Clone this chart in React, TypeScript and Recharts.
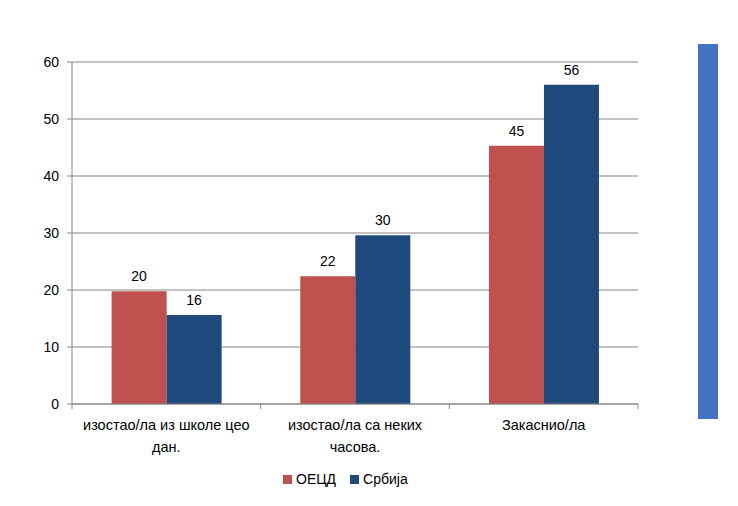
import { BarChart, Bar, XAxis, YAxis, CartesianGrid, LabelList } from 'recharts';

const categoryLines = [
  ['изостао/ла из школе цео', 'дан.'],
  ['изостао/ла са неких', 'часова.'],
  ['Закаснио/ла'],
];
const oecdValues = [19.8, 22.4, 45.3];
const serbiaValues = [15.6, 29.6, 56.0];
const yTicks = [0, 10, 20, 30, 40, 50, 60];
const seriesNames = ['ОЕЦД', 'Србија'];
const seriesColors = ['#C0504D', '#1F497D'];

const data = categoryLines.map((lines, i) => ({
  name: lines.join(' '),
  oecd: oecdValues[i],
  serbia: serbiaValues[i],
}));

const FONT = '"Liberation Sans", Arial, sans-serif';
const AXIS = '#868686';
const BAND = 566 / 3;

const CategoryTick = (props: any) => {
  const { x, y, index } = props;
  const lines = categoryLines[index] || [];
  return (
    <g>
      <line x1={x - BAND / 2} y1={y} x2={x - BAND / 2} y2={y + 5} stroke={AXIS} />
      {index === categoryLines.length - 1 && (
        <line x1={x + BAND / 2} y1={y} x2={x + BAND / 2} y2={y + 5} stroke={AXIS} />
      )}
      {lines.map((l, k) => (
        <text key={k} x={x} y={y + 26 + k * 22} textAnchor="middle" fontSize={14.5} fill="#000" fontFamily={FONT}>
          {l}
        </text>
      ))}
    </g>
  );
};

export default function App() {
  return (
    <div style={{ position: 'absolute', left: 0, top: 0, width: 738, height: 506, background: '#fff', fontFamily: FONT }}>
      <BarChart
        width={738}
        height={506}
        data={data}
        margin={{ top: 62, right: 100, left: 0, bottom: 42 }}
        barCategoryGap="21%"
        barGap={0}
      >
        <CartesianGrid vertical={false} stroke={AXIS} strokeWidth={1} />
        <XAxis
          dataKey="name"
          height={60}
          tickLine={false}
          tickSize={0}
          tickMargin={0}
          stroke={AXIS}
          tick={<CategoryTick />}
          interval={0}
        />
        <YAxis
          width={72}
          domain={[0, 60]}
          ticks={yTicks}
          tickSize={5}
          tickMargin={8}
          stroke={AXIS}
          tick={{ fill: '#000', fontSize: 14, fontFamily: FONT }}
        />
        <Bar dataKey="oecd" name={seriesNames[0]} fill={seriesColors[0]} isAnimationActive={false}>
          <LabelList dataKey="oecd" position="top" offset={10} fill="#000" fontSize={14} fontFamily={FONT} formatter={(v: any) => Math.round(v)} />
        </Bar>
        <Bar dataKey="serbia" name={seriesNames[1]} fill={seriesColors[1]} isAnimationActive={false}>
          <LabelList dataKey="serbia" position="top" offset={10} fill="#000" fontSize={14} fontFamily={FONT} formatter={(v: any) => Math.round(v)} />
        </Bar>
      </BarChart>
      <div style={{ position: 'absolute', left: 283, top: 471, display: 'flex', alignItems: 'center', fontSize: 14, color: '#000' }}>
        {seriesNames.map((n, i) => (
          <span key={n} style={{ display: 'flex', alignItems: 'center', marginRight: 14 }}>
            <span style={{ width: 9, height: 9, background: seriesColors[i], display: 'inline-block', marginRight: 4 }} />
            {n}
          </span>
        ))}
      </div>
      <div style={{ position: 'absolute', left: 698, top: 44, width: 20, height: 375, background: '#4472C4' }} />
    </div>
  );
}
